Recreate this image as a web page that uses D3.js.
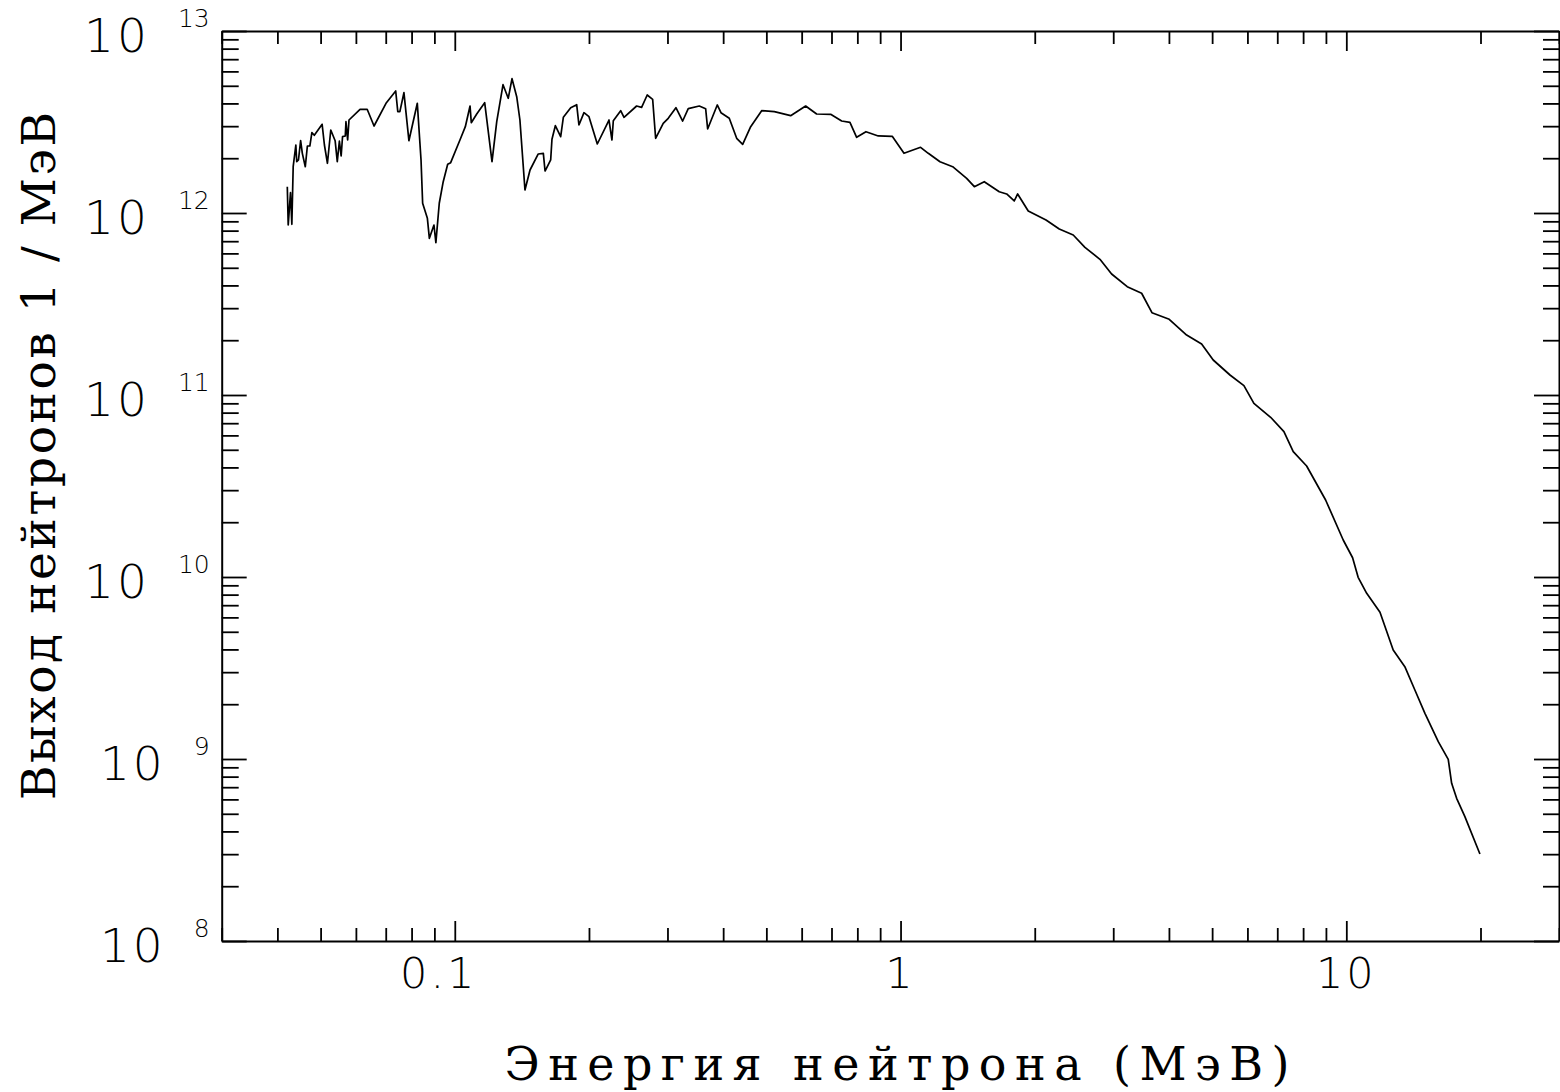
<!DOCTYPE html>
<html>
<head>
<meta charset="utf-8">
<script src="https://cdn.jsdelivr.net/npm/d3@7"></script>
<style>
body { margin: 0; background: #fff; }
svg { display: block; }
.num { font-family: "DejaVu Sans", sans-serif; font-weight: 200; fill: #000; }
.title { font-family: "DejaVu Serif", serif; fill: #000; }
</style>
</head>
<body>
<svg id="chart" width="1560" height="1092"></svg>
<script>
// neutron energy, MeV
var energy = [
  0.0421, 0.0423, 0.0428, 0.0431, 0.0434, 0.0440, 0.0442, 0.0446, 0.0451, 0.0455,
  0.0462, 0.0467, 0.0473, 0.0478, 0.0484, 0.0504, 0.0510, 0.0518, 0.0527, 0.0539,
  0.0545, 0.0551, 0.0556, 0.0560, 0.0568, 0.0570, 0.0575, 0.0579, 0.0613, 0.0636,
  0.0659, 0.0701, 0.0737, 0.0745, 0.0753, 0.0769, 0.0789,
  0.0824, 0.0840, 0.0847, 0.0868, 0.0877, 0.0898, 0.0907, 0.0923, 0.0942, 0.0964, 0.0979,
  0.1027, 0.1056, 0.1082, 0.1089, 0.1120, 0.1167, 0.1212, 0.1242, 0.1283, 0.1318,
  0.1344, 0.1377, 0.1400, 0.1437, 0.1475, 0.1539, 0.1580, 0.1594, 0.1641, 0.1652,
  0.1681, 0.1728,
  0.1752, 0.1820, 0.1877, 0.1899, 0.1949, 0.2000, 0.2088, 0.2218, 0.2252, 0.2268,
  0.2356, 0.2397, 0.2558, 0.2625, 0.2702, 0.2779, 0.2822, 0.2935, 0.3012, 0.3134,
  0.3245, 0.3340, 0.3536, 0.3654, 0.3692, 0.3880, 0.3955, 0.4128, 0.4289, 0.4424,
  0.4611, 0.4880, 0.5210, 0.5668, 0.6125, 0.6482, 0.6970, 0.7378, 0.770, 0.7971,
  0.8364, 0.8912, 0.9580, 1.018, 1.109, 1.154, 1.226,
  1.309, 1.407, 1.464, 1.541, 1.665, 1.730, 1.799, 1.831, 1.934, 2.120,
  2.270, 2.440, 2.592, 2.801, 2.975, 3.225, 3.474, 3.664, 4.006,
  4.383, 4.736, 5.028, 5.483, 5.892, 6.204, 6.764, 7.245, 7.602, 8.147,
  8.986, 9.841, 10.33, 10.63, 11.11, 11.90, 12.74, 13.53, 14.25, 15.01,
  16.08, 16.93, 17.23, 17.68, 18.45, 19.94
];

// neutron yield, 1/MeV
var yieldVals = [
  1.395e12, 8.59e11, 1.293e12, 8.67e11, 1.796e12, 2.364e12, 1.914e12, 1.956e12, 2.496e12, 2.128e12,
  1.796e12, 2.334e12, 2.334e12, 2.762e12, 2.673e12, 3.072e12, 2.364e12, 1.876e12, 2.858e12, 2.496e12,
  1.914e12, 2.487e12, 2.057e12, 2.626e12, 2.650e12, 3.174e12, 2.518e12, 3.243e12, 3.714e12, 3.714e12,
  3.006e12, 4.006e12, 4.680e12, 3.603e12, 3.603e12, 4.581e12, 2.496e12,
  4.006e12, 1.956e12, 1.131e12, 9.35e11, 7.26e11, 8.59e11, 6.87e11, 1.131e12, 1.486e12, 1.852e12, 1.890e12,
  2.518e12, 2.980e12, 3.872e12, 3.135e12, 3.500e12, 4.037e12, 1.914e12, 3.174e12, 5.069e12, 4.268e12,
  5.470e12, 4.355e12, 3.243e12, 1.338e12, 1.723e12, 2.110e12, 2.128e12, 1.701e12, 1.956e12, 2.541e12,
  3.018e12, 2.626e12,
  3.356e12, 3.790e12, 3.937e12, 3.045e12, 3.558e12, 3.382e12, 2.394e12, 3.243e12, 2.518e12, 3.215e12,
  3.649e12, 3.356e12, 3.872e12, 3.808e12, 4.450e12, 4.214e12, 2.573e12, 3.111e12, 3.314e12, 3.790e12,
  3.202e12, 3.742e12, 3.872e12, 3.742e12, 2.894e12, 3.922e12, 3.558e12, 3.314e12, 2.573e12, 2.385e12,
  2.980e12, 3.649e12, 3.603e12, 3.425e12, 3.872e12, 3.500e12, 3.486e12, 3.202e12, 3.150e12, 2.606e12,
  2.797e12, 2.650e12, 2.639e12, 2.128e12, 2.296e12, 2.128e12, 1.914e12,
  1.796e12, 1.551e12, 1.395e12, 1.486e12, 1.309e12, 1.272e12, 1.164e12, 1.272e12, 1.026e12, 9.153e11,
  8.167e11, 7.571e11, 6.479e11, 5.567e11, 4.622e11, 3.937e11, 3.622e11, 2.833e11, 2.606e11,
  2.136e11, 1.906e11, 1.557e11, 1.288e11, 1.125e11, 9.003e10, 7.542e10, 6.286e10, 4.881e10, 4.073e10,
  2.650e10, 1.597e10, 1.276e10, 9.962e9, 8.137e9, 6.398e9, 3.972e9, 3.215e9, 2.394e9, 1.783e9,
  1.245e9, 9.962e8, 7.356e8, 6.083e8, 4.820e8, 3.006e8
];

var xMajor = [0.1, 1, 10];
var xTickLabels = ["0.1", "1", "10"];
var yExponents = [8, 9, 10, 11, 12, 13];

var xTitle = "Энергия нейтрона (МэВ)";
var yTitle = "Выход нейтронов 1 / МэВ";

var plotLeft = 221.7, plotRight = 1559, plotTop = 31, plotBottom = 941;

var x = d3.scaleLog().domain([0.03, 30]).range([plotLeft, plotRight]);
var y = d3.scaleLog().domain([1e8, 1e13]).range([plotBottom, plotTop]);

var svg = d3.select("#chart");

function isMajor(d) {
    var l = Math.log10(d);
    return Math.abs(l - Math.round(l)) < 1e-6;
}

//x axes (bottom and top), ticks point inward
var xb = svg.append("g")
    .attr("transform", "translate(0," + plotBottom + ")")
    .call(d3.axisBottom(x).tickSizeInner(-13).tickSizeOuter(0).tickFormat(""));
var xt = svg.append("g")
    .attr("transform", "translate(0," + plotTop + ")")
    .call(d3.axisTop(x).tickSizeInner(-13).tickSizeOuter(0).tickFormat(""));
xb.selectAll(".tick").filter(isMajor).select("line").attr("y2", -20);
xt.selectAll(".tick").filter(isMajor).select("line").attr("y2", 20);

//y axes (left and right)
var yl = svg.append("g")
    .attr("transform", "translate(" + plotLeft + ",0)")
    .call(d3.axisLeft(y).tickSizeInner(-17).tickSizeOuter(0).tickFormat(""));
var yr = svg.append("g")
    .attr("transform", "translate(" + plotRight + ",0)")
    .call(d3.axisRight(y).tickSizeInner(-16).tickSizeOuter(0).tickFormat(""));
yl.selectAll(".tick").filter(isMajor).select("line").attr("x2", 25);
yr.selectAll(".tick").filter(isMajor).select("line").attr("x2", -25);

svg.selectAll(".domain").attr("stroke-width", 2);
svg.selectAll(".tick line").attr("stroke-width", 1.8);

//x tick labels
svg.selectAll("text.xlab")
    .data(xMajor)
    .enter().append("text")
    .attr("class", "num xlab")
    .attr("x", d => x(d))
    .attr("dx", d => d < 1 ? -16 : 0)
    .attr("y", plotBottom + 47)
    .attr("text-anchor", "middle")
    .attr("font-size", 43)
    .attr("letter-spacing", 3)
    .text((d, i) => xTickLabels[i]);

//y tick labels: 10 with exponent
var ylab = svg.selectAll("text.ylab")
    .data(yExponents)
    .enter().append("text")
    .attr("class", "num ylab")
    .attr("x", plotLeft - 12)
    .attr("y", d => y(Math.pow(10, d)) + 21)
    .attr("text-anchor", "end");
ylab.append("tspan")
    .attr("font-size", 47)
    .attr("letter-spacing", 3)
    .text("10");
ylab.append("tspan")
    .attr("font-size", 25)
    .attr("dx", 28)
    .attr("dy", -25)
    .text(d => d);

//curve
var line = d3.line()
    .x(d => x(d[0]))
    .y(d => y(d[1]));

svg.append("path")
    .datum(d3.zip(energy, yieldVals))
    .attr("fill", "none")
    .attr("stroke", "#000")
    .attr("stroke-width", 1.7)
    .attr("stroke-linejoin", "round")
    .attr("d", line);

//axis titles
svg.append("text")
    .attr("class", "title")
    .attr("x", 897)
    .attr("y", 1080)
    .attr("text-anchor", "middle")
    .attr("font-size", 46)
    .attr("textLength", 785)
    .attr("lengthAdjust", "spacing")
    .text(xTitle);

svg.append("text")
    .attr("class", "title")
    .attr("transform", "translate(55,456) rotate(-90)")
    .attr("text-anchor", "middle")
    .attr("font-size", 47)
    .attr("textLength", 688)
    .attr("lengthAdjust", "spacing")
    .text(yTitle);
</script>
</body>
</html>
